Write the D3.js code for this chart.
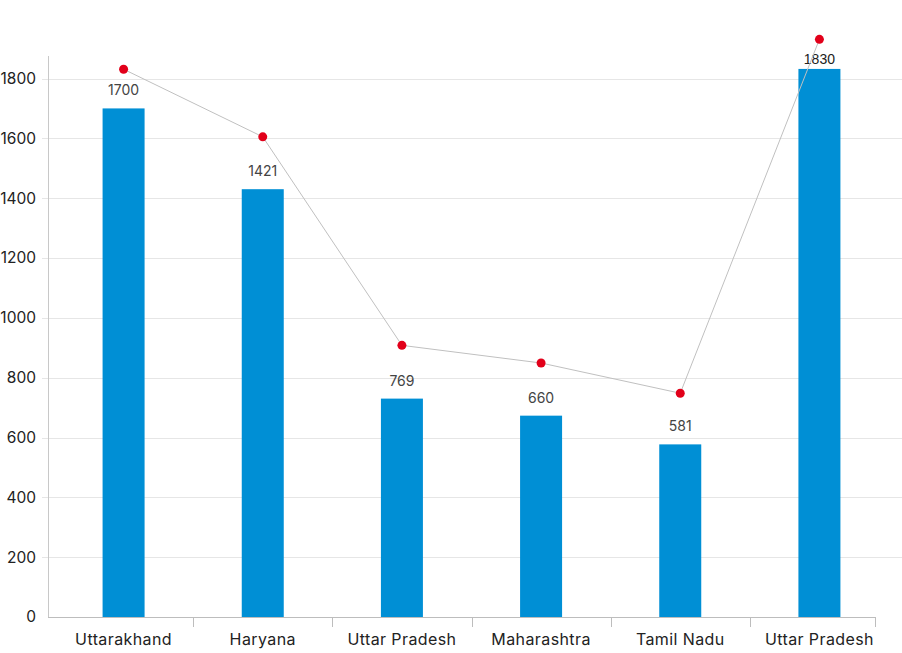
<!DOCTYPE html>
<html>
<head>
<meta charset="utf-8">
<script src="https://cdn.jsdelivr.net/npm/d3@7"></script>
<style>
  html, body { margin: 0; padding: 0; background: #fff; }
  svg { display: block; font-family: Inter, "Open Sans", sans-serif; }
</style>
</head>
<body>
<svg id="chart" width="902" height="653"></svg>
<script>
const categories = ["Uttarakhand", "Haryana", "Uttar Pradesh", "Maharashtra", "Tamil Nadu", "Uttar Pradesh"];
const barValues = [1700, 1430, 730, 673, 577, 1832];
const barLabels = ["1700", "1421", "769", "660", "581", "1830"];
const lineValues = [1831, 1605, 908, 849, 748, 1931];
const yTicks = [0, 200, 400, 600, 800, 1000, 1200, 1400, 1600, 1800];

const svg = d3.select("#chart");
const axisLeft = 48, axisRight = 875, gridRight = 902;
const yBase = 617, yTop1800 = 78.5, axisTop = 56;

const idx = categories.map((d, i) => i);
const x = d3.scaleBand().domain(idx).range([54, 889]).padding(0);
const barW = 42;
const y = d3.scaleLinear().domain([0, 1800]).range([yBase, yTop1800]);

// gridlines
svg.append("g").selectAll("line").data(yTicks.filter(t => t > 0)).join("line")
  .attr("x1", axisLeft - 6).attr("x2", gridRight)
  .attr("y1", d => Math.round(y(d)) + 0.5).attr("y2", d => Math.round(y(d)) + 0.5)
  .attr("stroke", "#e6e6e6").attr("stroke-width", 1);

// y tick labels
svg.append("g").selectAll("text").data(yTicks).join("text")
  .attr("x", 36).attr("y", d => y(d))
  .attr("dy", "0.35em").attr("text-anchor", "end")
  .attr("font-size", 15.5).attr("fill", "#222")
  .text(d => d);

// bars
svg.append("g").selectAll("rect").data(barValues).join("rect")
  .attr("x", (d, i) => x(i) + x.bandwidth() / 2 - barW / 2)
  .attr("width", barW)
  .attr("y", d => y(d))
  .attr("height", d => y(0) - y(d))
  .attr("fill", "#008fd5");

// y axis line
svg.append("line")
  .attr("x1", axisLeft + 0.5).attr("x2", axisLeft + 0.5)
  .attr("y1", axisTop).attr("y2", yBase)
  .attr("stroke", "#c8c8c8").attr("stroke-width", 1);

// x axis line
svg.append("line")
  .attr("x1", axisLeft).attr("x2", axisRight)
  .attr("y1", yBase + 0.5).attr("y2", yBase + 0.5)
  .attr("stroke", "#bdbdbd").attr("stroke-width", 1);

// x ticks at band edges
const edges = idx.slice(1).map(i => x(i)).concat([axisRight]);
svg.append("g").selectAll("line").data(edges).join("line")
  .attr("x1", d => Math.round(d) + 0.5).attr("x2", d => Math.round(d) + 0.5)
  .attr("y1", yBase).attr("y2", yBase + 10)
  .attr("stroke", "#bdbdbd").attr("stroke-width", 1);

// x labels
svg.append("g").selectAll("text").data(categories).join("text")
  .attr("x", (d, i) => x(i) + x.bandwidth() / 2)
  .attr("y", 645)
  .attr("text-anchor", "middle")
  .attr("font-size", 16).attr("letter-spacing", "0.4px").attr("fill", "#222")
  .text(d => d);

// bar value labels
svg.append("g").selectAll("text").data(barLabels).join("text")
  .attr("x", (d, i) => x(i) + x.bandwidth() / 2)
  .attr("y", (d, i) => Math.max(y(barValues[i]) - 18, 59))
  .attr("dy", "0.35em")
  .attr("text-anchor", "middle")
  .attr("font-size", 14).attr("fill", (d, i) => i === barLabels.length - 1 ? "#222" : "#444")
  .attr("font-family", (d, i) => i === barLabels.length - 1 ? "Liberation Sans, Arial, sans-serif" : null)
  .text(d => d);

// line
const line = d3.line()
  .x((d, i) => x(i) + x.bandwidth() / 2)
  .y(d => y(d));
svg.append("path").datum(lineValues)
  .attr("d", line)
  .attr("fill", "none")
  .attr("stroke", "#c0c0c0").attr("stroke-width", 1);

// dots
svg.append("g").selectAll("circle").data(lineValues).join("circle")
  .attr("cx", (d, i) => x(i) + x.bandwidth() / 2)
  .attr("cy", d => y(d))
  .attr("r", 4.5)
  .attr("fill", "#e2001a");
</script>
</body>
</html>
